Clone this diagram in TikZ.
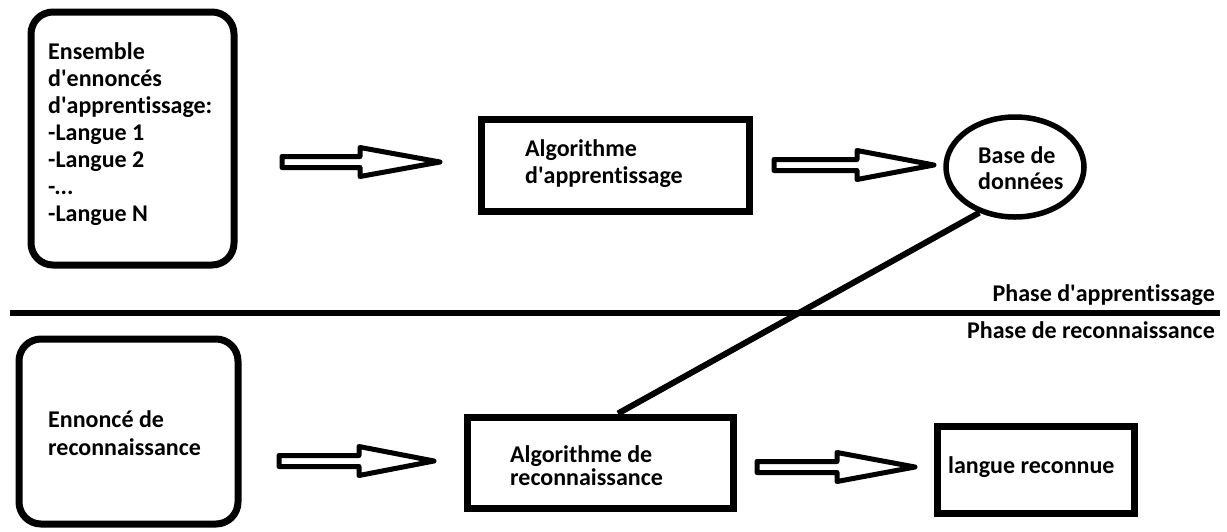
\documentclass[tikz,border=0pt]{standalone}
\usepackage{fontspec}
\setmainfont{Carlito}[Ligatures={NoCommon}]
\usetikzlibrary{calc,shapes.geometric}
\newcommand\q{\textquotesingle}
% hollow block arrow: start x, head base x, tip x, axis y
\newcommand\fatarrow[4]{%
  \draw[hollow] (#1,#4-5.5) -- (#2,#4-5.5) -- (#2,#4-14.5) -- (#3,#4)
    -- (#2,#4+14.5) -- (#2,#4+5.5) -- (#1,#4+5.5) -- cycle;}
\begin{document}
\begin{tikzpicture}[x=1pt,y=-1pt,
  every node/.style={font=\fontsize{24}{27}\selectfont\bfseries, inner sep=0pt},
  frame/.style={draw, line width=7pt},
  roundframe/.style={frame, rounded corners=22pt},
  txt/.style={align=left, anchor=west},
  hollow/.style={draw, line width=5pt, line join=round},
  rule/.style={line width=6pt},
]
\useasboundingbox[fill=white] (0,0) rectangle (1227,531);

% learning phase
\node[roundframe, minimum width=203pt, minimum height=253pt] (trainset) at (132.5,138.5) {};
\node[txt] (trainsettext) at (48,134)
  {Ensemble\\d\q ennoncés\\d\q apprentissage:\\-Langue 1\\-Langue 2\\-...\\-Langue N};

\node[frame, minimum width=268pt, minimum height=92pt] (learnalg) at (615,165) {};
\node[txt] (learnalgtext) at (525,164) {Algorithme\\d\q apprentissage};

\node[ellipse, draw, line width=5.5pt, minimum width=138pt, minimum height=100pt] (db) at (1015,167) {};
\node[txt, font=\fontsize{24}{26}\selectfont\bfseries] (dbtext) at (978,168) {Base de\\données};

\fatarrow{282}{360}{440}{162}
\fatarrow{774}{857}{934}{165}

% phase separator
\coordinate (sepL) at (10,313);
\coordinate (sepR) at (1220,313);
\draw[rule] (sepL) -- (sepR);
\node[anchor=east] (phase1) at (1215,295) {Phase d\q apprentissage};
\node[anchor=east] (phase2) at (1215,330) {Phase de reconnaissance};

% recognition phase
\node[roundframe, minimum width=219pt, minimum height=185pt] (utter) at (128.5,431.5) {};
\node[txt, font=\fontsize{24}{28}\selectfont\bfseries] (uttertext) at (48,433) {Ennoncé de\\reconnaissance};

\node[frame, minimum width=266pt, minimum height=91pt] (recalg) at (600,462.5) {};
\node[txt, font=\fontsize{24}{23}\selectfont\bfseries] (recalgtext) at (510,466) {Algorithme de\\reconnaissance};

\node[frame, minimum width=197pt, minimum height=87pt] (result) at (1035.5,469.5) {};
\node[txt] (resulttext) at (948,467) {langue reconnue};

\fatarrow{279}{359}{434}{461}
\fatarrow{757}{837}{915}{467}

% database feeds the recognition algorithm
\draw[rule] (db.232) -- ($(recalg.north)+(18,0)$);
\end{tikzpicture}
\end{document}
